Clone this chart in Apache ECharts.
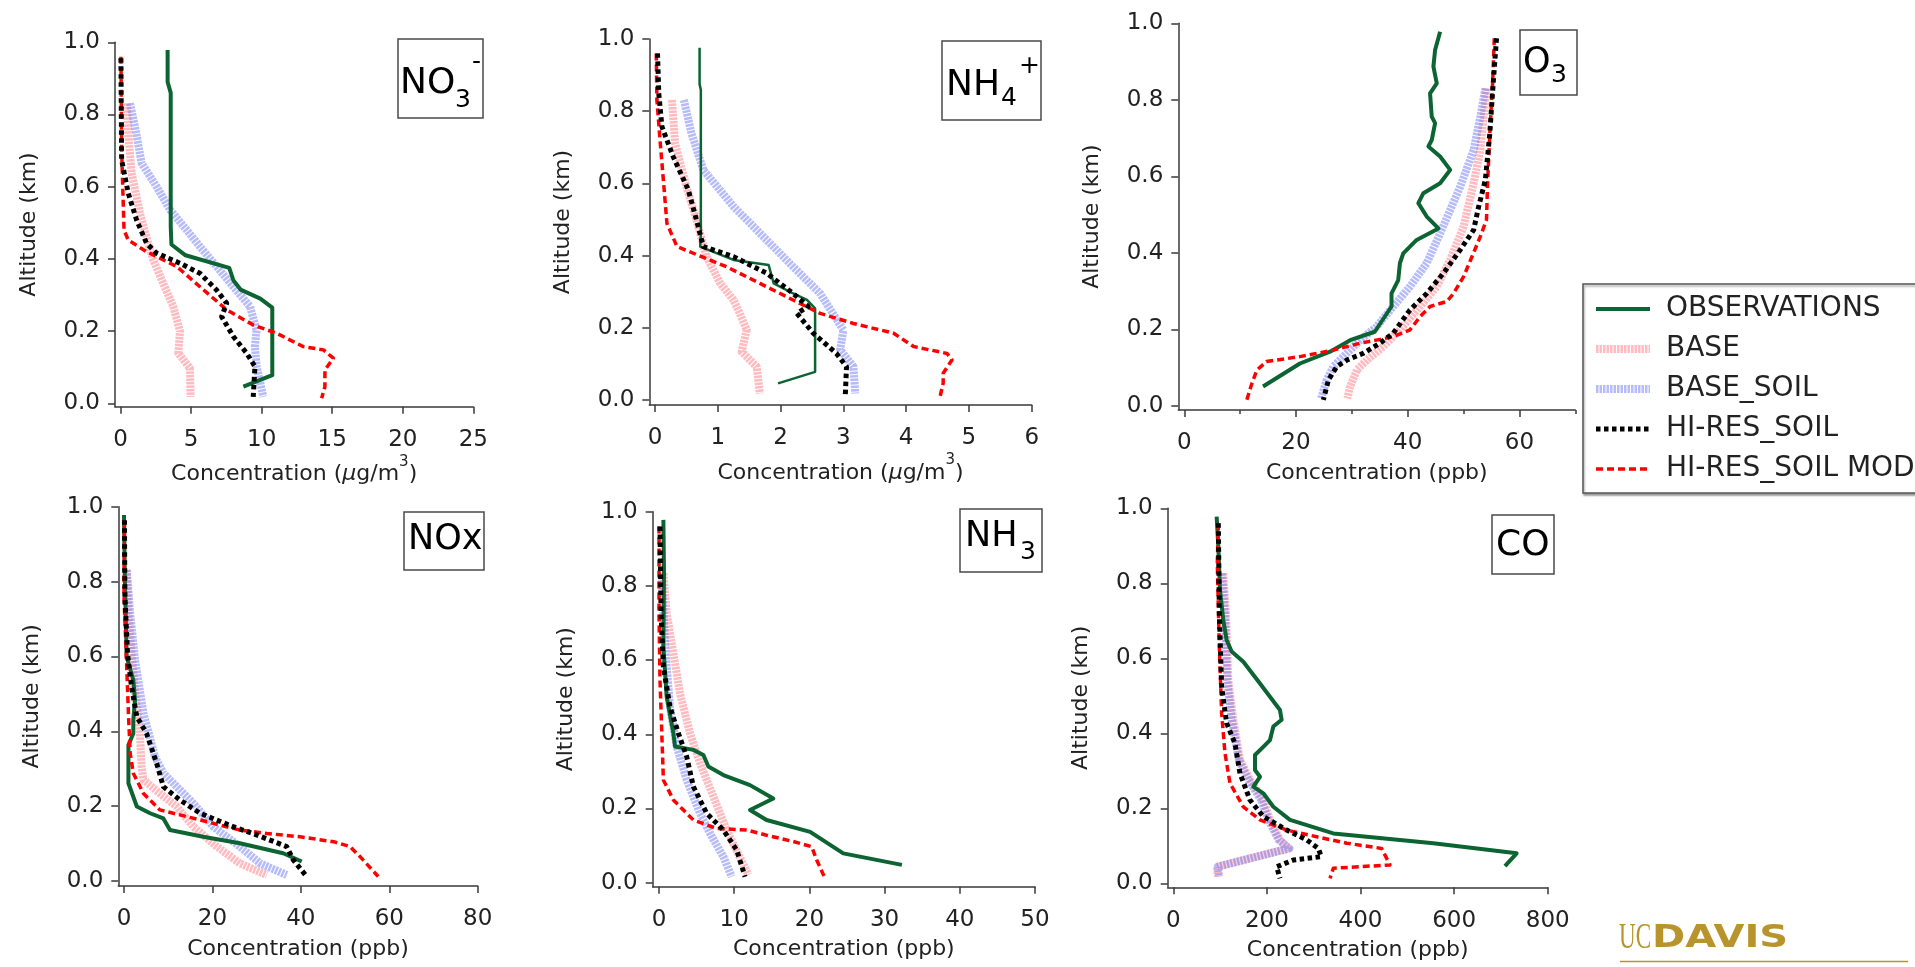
<!DOCTYPE html>
<html>
<head>
<meta charset="utf-8">
<title>Vertical profiles</title>
<script src="https://cdn.jsdelivr.net/npm/echarts@6/dist/echarts.min.js"></script>
<style>
  html, body { margin: 0; padding: 0; background: #ffffff; }
  #chart { width: 1915px; height: 967px; }
</style>
</head>
<body>
<div id="chart"></div>
<script>
// ---- Profiles: each point is [concentration, altitude (km)] ----

// NO3- (ug/m3)
const no3Obs = [[3.33,0.979],[3.33,0.89],[3.55,0.86],[3.55,0.49],[3.6,0.44],[4.6,0.41],[7.7,0.375],[8.0,0.34],[8.5,0.315],[9.9,0.29],[10.75,0.265],[10.75,0.078],[8.7,0.046]];
const no3Base = [[0.43,0.831],[0.54,0.748],[0.78,0.637],[1.37,0.526],[1.96,0.443],[2.32,0.397],[3.02,0.332],[3.73,0.268],[4.21,0.199],[4.09,0.139],[4.91,0.097],[4.96,0.018]];
const no3BaseSoil = [[0.66,0.831],[1.02,0.766],[1.49,0.665],[2.55,0.6],[3.5,0.536],[4.68,0.48],[5.62,0.434],[6.8,0.379],[7.99,0.323],[9.17,0.268],[9.64,0.203],[9.52,0.157],[9.64,0.102],[10.11,0.018]];
const no3HiRes = [[0.02,0.956],[0.07,0.674],[0.54,0.582],[1.13,0.508],[1.84,0.443],[2.55,0.416],[4.21,0.388],[5.62,0.36],[6.8,0.314],[7.52,0.277],[7.16,0.24],[7.99,0.185],[8.93,0.139],[9.52,0.102],[9.4,0.018]];
const no3HiResMod = [[0.02,0.96],[0.07,0.702],[0.24,0.48],[0.54,0.452],[1.84,0.42],[3.97,0.379],[5.62,0.323],[7.52,0.259],[9.4,0.217],[11.06,0.194],[12.95,0.157],[14.37,0.148],[15.08,0.125],[14.48,0.092],[14.48,0.046],[14.25,0.014]];

// NH4+ (ug/m3)
const nh4Obs = [[0.71,0.976],[0.71,0.875],[0.73,0.859],[0.73,0.462],[0.72,0.425],[1.25,0.388],[1.81,0.374],[1.89,0.323],[2.2,0.295],[2.42,0.277],[2.55,0.254],[2.55,0.078],[1.96,0.046]];
const nh4Base = [[0.27,0.831],[0.32,0.711],[0.5,0.591],[0.66,0.499],[0.82,0.397],[1.04,0.323],[1.25,0.277],[1.35,0.24],[1.46,0.194],[1.38,0.134],[1.62,0.092],[1.67,0.018]];
const nh4BaseSoil = [[0.46,0.831],[0.58,0.739],[0.77,0.637],[1.25,0.536],[1.78,0.443],[2.2,0.369],[2.63,0.295],[3.0,0.194],[2.95,0.139],[3.16,0.092],[3.19,0.018]];
const nh4HiRes = [[0.04,0.96],[0.06,0.849],[0.11,0.757],[0.29,0.674],[0.53,0.582],[0.66,0.499],[0.77,0.425],[1.25,0.397],[1.78,0.351],[2.2,0.295],[2.44,0.259],[2.26,0.24],[2.52,0.185],[2.89,0.129],[3.05,0.092],[3.03,0.009]];
const nh4HiResMod = [[0.02,0.96],[0.03,0.831],[0.08,0.72],[0.19,0.489],[0.35,0.425],[1.14,0.369],[1.67,0.323],[2.2,0.277],[2.63,0.24],[3.16,0.212],[3.8,0.185],[4.12,0.148],[4.65,0.129],[4.73,0.111],[4.59,0.074],[4.59,0.046],[4.54,0.009]];

// O3 (ppb)
const o3Obs = [[45.8,0.978],[44.9,0.93],[44.6,0.887],[45.2,0.843],[44.0,0.817],[44.3,0.756],[44.9,0.739],[44.3,0.695],[43.7,0.678],[45.8,0.652],[47.6,0.617],[45.8,0.582],[42.8,0.556],[41.9,0.53],[43.4,0.495],[45.5,0.464],[41.6,0.434],[39.2,0.399],[38.6,0.373],[38.3,0.329],[37.1,0.294],[37.1,0.26],[34.1,0.194],[29.7,0.172],[26.1,0.142],[20.7,0.111],[14.1,0.051]];
const o3Base = [[54.1,0.83],[53.6,0.756],[53.0,0.669],[51.8,0.582],[50.0,0.469],[47.6,0.382],[45.2,0.312],[42.2,0.26],[38.6,0.199],[35.6,0.155],[32.7,0.12],[30.9,0.094],[29.7,0.051],[29.2,0.02]];
const o3BaseSoil = [[53.9,0.83],[53.0,0.756],[51.8,0.669],[49.4,0.573],[47.6,0.512],[45.8,0.451],[43.4,0.373],[40.4,0.312],[37.4,0.26],[34.4,0.207],[31.5,0.172],[29.1,0.138],[26.7,0.103],[25.5,0.068],[24.5,0.02]];
const o3HiRes = [[55.9,0.961],[55.3,0.843],[54.7,0.713],[53.9,0.591],[52.7,0.521],[51.8,0.46],[49.4,0.408],[46.4,0.347],[43.4,0.294],[40.4,0.251],[37.4,0.19],[35.0,0.164],[32.1,0.138],[29.1,0.12],[27.3,0.103],[25.8,0.068],[24.9,0.016]];
const o3HiResMod = [[55.5,0.961],[55.2,0.843],[54.7,0.713],[54.3,0.582],[54.1,0.486],[53.0,0.443],[51.5,0.39],[50.0,0.338],[48.2,0.294],[47.0,0.273],[44.0,0.26],[42.2,0.233],[40.4,0.199],[37.4,0.181],[34.4,0.172],[31.5,0.164],[26.7,0.146],[20.7,0.129],[14.7,0.116],[13.0,0.094],[12.1,0.059],[11.2,0.016]];

// NOx (ppb)
const noxObs = [[0,0.978],[0.2,0.804],[0.6,0.599],[2.1,0.537],[2.5,0.484],[2.1,0.43],[2.1,0.394],[1.0,0.363],[1.0,0.261],[2.9,0.199],[5.9,0.181],[8.9,0.167],[10.4,0.136],[17.9,0.118],[26.2,0.101],[36.0,0.074],[40.2,0.052]];
const noxBase = [[0.6,0.831],[1.0,0.715],[1.7,0.608],[2.5,0.501],[3.6,0.394],[4.0,0.305],[4.4,0.27],[8.1,0.234],[11.9,0.199],[15.7,0.145],[21.0,0.092],[26.2,0.047],[32.3,0.016]];
const noxBaseSoil = [[0.6,0.831],[1.4,0.715],[2.5,0.59],[4.4,0.448],[7.0,0.332],[8.9,0.288],[15.7,0.207],[20.2,0.145],[26.2,0.092],[30.8,0.047],[36.8,0.016]];
const noxHiRes = [[0.1,0.964],[0.2,0.76],[0.8,0.608],[1.7,0.519],[2.9,0.439],[5.1,0.394],[7.4,0.314],[8.9,0.252],[12.7,0.216],[17.2,0.181],[24.7,0.145],[30.0,0.123],[36.8,0.092],[38.3,0.056],[41.3,0.012]];
const noxHiResMod = [[0.1,0.964],[0,0.76],[0.5,0.608],[1.0,0.448],[1.4,0.341],[2.1,0.288],[4.4,0.234],[8.1,0.19],[14.2,0.172],[20.2,0.154],[26.2,0.136],[32.3,0.127],[39.8,0.118],[47.4,0.105],[51.1,0.092],[53.4,0.065],[57.5,0.012]];

// NH3 (ppb)
const nh3Obs = [[0.58,0.978],[0.66,0.834],[0.58,0.636],[1.02,0.501],[1.91,0.403],[2.13,0.367],[4.57,0.358],[5.9,0.344],[6.56,0.313],[8.56,0.29],[12.1,0.263],[15.2,0.227],[12.1,0.196],[14.3,0.169],[20.1,0.137],[24.5,0.079],[32.3,0.048]];
const nh3Base = [[0.58,0.834],[1.02,0.726],[1.91,0.618],[2.79,0.51],[4.12,0.403],[5.45,0.322],[7.23,0.232],[9.0,0.142],[11.88,0.021]];
const nh3BaseSoil = [[0.35,0.834],[0.8,0.636],[1.46,0.474],[2.35,0.367],[3.68,0.277],[5.45,0.187],[6.78,0.133],[8.56,0.07],[9.66,0.016]];
const nh3HiRes = [[0.13,0.96],[0.27,0.726],[0.58,0.582],[1.46,0.474],[2.57,0.403],[3.68,0.34],[4.57,0.259],[6.34,0.187],[8.56,0.142],[10.33,0.088],[11.44,0.016]];
const nh3HiResMod = [[0,0.96],[0,0.726],[0.13,0.546],[0.58,0.277],[1.91,0.223],[4.57,0.169],[7.67,0.146],[11.66,0.142],[14.3,0.128],[17.86,0.111],[20.3,0.097],[20.97,0.061],[22.07,0.012]];

// CO (ppb)
const coObs = [[92.6,0.978],[96.2,0.898],[99.7,0.782],[106.8,0.702],[113.9,0.649],[124.6,0.618],[149.6,0.591],[185.2,0.533],[227.9,0.462],[231.5,0.436],[213.7,0.418],[206.6,0.382],[192.3,0.364],[174.5,0.342],[174.5,0.302],[185.2,0.284],[171.0,0.258],[192.3,0.24],[213.7,0.204],[249.3,0.169],[341.9,0.133],[555.6,0.107],[733.6,0.08],[708.7,0.046]];
const coBase = [[106.8,0.827],[112.5,0.72],[117.5,0.542],[128.2,0.436],[142.5,0.329],[163.8,0.276],[192.3,0.222],[206.6,0.169],[227.9,0.116],[245.7,0.093],[92.6,0.044],[96.2,0.018]];
const coBaseSoil = [[104,0.827],[110,0.72],[115,0.542],[125,0.436],[140,0.329],[160,0.276],[188,0.222],[203,0.169],[225,0.116],[248,0.093],[95,0.044],[98,0.018]];
const coHiRes = [[96.2,0.96],[98.3,0.72],[103.3,0.524],[113.9,0.427],[131.7,0.373],[142.5,0.293],[163.8,0.222],[192.3,0.178],[242.2,0.142],[284.9,0.116],[309.8,0.093],[316.2,0.071],[256.4,0.062],[220.8,0.044],[227.9,0.013]];
const coHiResMod = [[96.2,0.96],[94.0,0.853],[98.3,0.631],[103.3,0.453],[110.4,0.347],[121.0,0.267],[149.6,0.204],[185.2,0.169],[242.2,0.142],[306.3,0.124],[370.4,0.107],[445.2,0.093],[463.0,0.049],[341.9,0.04],[334.8,0.013]];

// ---- Tick values ----
const altTicks = [0, 0.2, 0.4, 0.6, 0.8, 1.0];
const no3Ticks = [0, 5, 10, 15, 20, 25];
const nh4Ticks = [0, 1, 2, 3, 4, 5, 6];
const o3Ticks = [0, 20, 40, 60];
const o3MinorTicks = [10, 30, 50, 70];
const noxTicks = [0, 20, 40, 60, 80];
const nh3Ticks = [0, 10, 20, 30, 40, 50];
const coTicks = [0, 200, 400, 600, 800];

const seriesNames = ['OBSERVATIONS', 'BASE', 'BASE_SOIL', 'HI-RES_SOIL', 'HI-RES_SOIL MOD'];

// ---- Styling ----
const FONT = 'DejaVu Sans';
const AXIS_COLOR = '#3a3a3a';
const TEXT_COLOR = '#222222';

const lineStyles = {
  'OBSERVATIONS':    { color: '#0b6431', width: 4,   type: 'solid',    z: 4 },
  'BASE':            { color: 'rgba(255,120,130,0.5)', width: 8, type: [2.5, 1], z: 2 },
  'BASE_SOIL':       { color: 'rgba(110,120,245,0.5)', width: 8, type: [2.5, 1], z: 3 },
  'HI-RES_SOIL':     { color: '#000000', width: 5,   type: [4.5, 3.5], z: 6 },
  'HI-RES_SOIL MOD': { color: '#ff0000', width: 3.5, type: [7, 4],     z: 5 }
};

const UG = '{t|Concentration (}{mu|\u03bc}{t|g/m}{sup|3}{t|)}';
const PPB = 'Concentration (ppb)';

// Panel layout: grid box in pixels and axis extents
const panels = [
  { grid: { left: 115,    top: 42.3,  width: 358.3, height: 364.4 }, xMin: -0.4,  xMax: 25, yMin: -0.0094, ticks: no3Ticks, unit: UG,
    profiles: [no3Obs, no3Base, no3BaseSoil, no3HiRes, no3HiResMod] },
  { grid: { left: 649.3,  top: 39,    width: 382.4, height: 366 },   xMin: -0.091, xMax: 6, yMin: -0.0139, ticks: nh4Ticks, unit: UG, obsWidth: 2.5,
    profiles: [nh4Obs, nh4Base, nh4BaseSoil, nh4HiRes, nh4HiResMod] },
  { grid: { left: 1178.3, top: 23.3,  width: 397,   height: 386.7 }, xMin: -1.07, xMax: 70, yMin: -0.0105, ticks: o3Ticks, minor: o3MinorTicks, unit: PPB,
    profiles: [o3Obs, o3Base, o3BaseSoil, o3HiRes, o3HiResMod] },
  { grid: { left: 118.3,  top: 506.7, width: 359.4, height: 379.3 }, xMin: -1.29, xMax: 80, yMin: -0.0134, ticks: noxTicks, unit: PPB,
    profiles: [noxObs, noxBase, noxBaseSoil, noxHiRes, noxHiResMod] },
  { grid: { left: 652.7,  top: 511.7, width: 382.3, height: 375 },   xMin: -0.84, xMax: 50, yMin: -0.0108, ticks: nh3Ticks, unit: PPB,
    profiles: [nh3Obs, nh3Base, nh3BaseSoil, nh3HiRes, nh3HiResMod] },
  { grid: { left: 1167.7, top: 508.3, width: 380,   height: 379 },   xMin: -12,   xMax: 800, yMin: -0.0107, ticks: coTicks, unit: PPB,
    profiles: [coObs, coBase, coBaseSoil, coHiRes, coHiResMod] }
];

const axisLineStyle = { color: AXIS_COLOR, width: 1.5 };

const grids = [], xAxes = [], yAxes = [], series = [];

panels.forEach((p, gi) => {
  grids.push(Object.assign({}, p.grid));
  const isUg = p.unit === UG;
  xAxes.push({
    type: 'value', gridIndex: gi, position: 'bottom', min: p.xMin, max: p.xMax,
    splitLine: { show: false },
    axisLine: { show: true, onZero: false, lineStyle: axisLineStyle },
    axisTick: { show: true, customValues: p.ticks, length: 7, lineStyle: axisLineStyle },
    axisLabel: { customValues: p.ticks, margin: 22, color: TEXT_COLOR, fontFamily: FONT, fontSize: 23 },
    name: p.unit, nameLocation: 'middle', nameGap: isUg ? 48 : 52,
    nameTextStyle: {
      color: TEXT_COLOR, fontFamily: FONT, fontSize: 22,
      rich: {
        t:   { color: TEXT_COLOR, fontFamily: FONT, fontSize: 22, lineHeight: 40 },
        mu:  { color: TEXT_COLOR, fontFamily: FONT, fontSize: 22, lineHeight: 40, fontStyle: 'italic' },
        sup: { color: TEXT_COLOR, fontFamily: FONT, fontSize: 15, lineHeight: 15, verticalAlign: 'top' }
      }
    }
  });
  yAxes.push({
    type: 'value', gridIndex: gi, min: p.yMin, max: 1.0,
    splitLine: { show: false },
    axisLine: { show: true, onZero: false, lineStyle: axisLineStyle },
    axisTick: { show: true, customValues: altTicks, length: 7, lineStyle: axisLineStyle },
    axisLabel: { customValues: altTicks, margin: 15, color: TEXT_COLOR, fontFamily: FONT, fontSize: 23,
                 formatter: v => v.toFixed(1) },
    name: 'Altitude (km)', nameLocation: 'middle', nameGap: 75,
    nameTextStyle: { color: TEXT_COLOR, fontFamily: FONT, fontSize: 22 }
  });
  const xIndex = xAxes.length - 1;
  const yIndex = yAxes.length - 1;
  // draw order: BASE, BASE_SOIL, OBSERVATIONS, HI-RES_SOIL MOD, HI-RES_SOIL
  [1, 2, 0, 4, 3].forEach(k => {
    const name = seriesNames[k];
    const st = lineStyles[name];
    const width = (k === 0 && p.obsWidth) ? p.obsWidth : st.width;
    series.push({
      type: 'line', name: name, xAxisIndex: xIndex, yAxisIndex: yIndex,
      data: p.profiles[k], showSymbol: false, symbol: 'none', smooth: false,
      color: st.color, z: st.z, silent: true,
      lineStyle: { color: st.color, width: width, type: st.type, cap: 'butt', join: 'round' }
    });
  });
  if (p.minor) {
    xAxes.push({
      type: 'value', gridIndex: gi, position: 'bottom', min: p.xMin, max: p.xMax,
      splitLine: { show: false },
      axisLine: { show: false, onZero: false },
      axisTick: { show: true, customValues: p.minor, length: 4, lineStyle: axisLineStyle },
      axisLabel: { show: false }
    });
  }
});

// Species label boxes
const speciesLabels = [
  { box: [398, 39, 85, 79],  parts: [['NO', 400, 84, 36], ['3', 455, 100, 25], ['-', 472, 62, 25]] },
  { box: [942, 41, 99, 79],  parts: [['NH', 946, 86, 36], ['4', 1001, 98, 25], ['+', 1019, 66, 25]] },
  { box: [1520, 30, 57, 65], parts: [['O', 1523, 62.5, 35], ['3', 1551, 75, 25]] },
  { box: [404, 512, 80, 58], parts: [['NOx', 408, 540, 35]] },
  { box: [960, 509, 82, 63], parts: [['NH', 965, 537, 35], ['3', 1020, 552, 25]] },
  { box: [1492, 515, 62, 59], parts: [['CO', 1496, 545.5, 36]] }
];

const graphics = [];
speciesLabels.forEach(l => {
  graphics.push({
    type: 'rect', shape: { x: l.box[0], y: l.box[1], width: l.box[2], height: l.box[3] },
    style: { fill: '#ffffff', stroke: '#4a4a4a', lineWidth: 1.5 }, z: 10
  });
  l.parts.forEach(pt => {
    graphics.push({
      type: 'text', x: pt[1], y: pt[2], z: 11,
      style: { text: pt[0], fill: '#000000', font: pt[3] + 'px "' + FONT + '"',
               textAlign: 'left', verticalAlign: 'middle' }
    });
  });
});

// UC Davis wordmark
const GOLD = '#b8952c';
graphics.push({
  type: 'text', x: 1619, y: 939, scaleX: 0.66, z: 10,
  style: { text: 'UC', fill: GOLD, font: '35px "Liberation Serif"', textAlign: 'left', verticalAlign: 'middle' }
});
graphics.push({
  type: 'text', x: 1652, y: 939, scaleX: 1.25, z: 10,
  style: { text: 'DAVIS', fill: GOLD, font: 'bold 32px "DejaVu Sans"', textAlign: 'left', verticalAlign: 'middle' }
});
graphics.push({
  type: 'line', shape: { x1: 1620, y1: 961.5, x2: 1908, y2: 961.5 },
  style: { stroke: GOLD, lineWidth: 1.5 }, z: 10
});

const chart = echarts.init(document.getElementById('chart'), null, { renderer: 'canvas' });
chart.setOption({
  backgroundColor: '#ffffff',
  animation: false,
  grid: grids,
  xAxis: xAxes,
  yAxis: yAxes,
  series: series,
  legend: {
    orient: 'vertical', left: 1583, top: 284,
    data: seriesNames, selectedMode: false,
    itemWidth: 54, itemHeight: 10, itemGap: 12,
    padding: [11, 8, 10, 9],
    backgroundColor: '#ffffff', borderColor: '#555555', borderWidth: 1.5,
    shadowColor: 'rgba(0,0,0,0.35)', shadowBlur: 2, shadowOffsetX: 1, shadowOffsetY: 2,
    lineStyle: { width: 'inherit' },
    // line-only keys: the marker symbol is made fully transparent
    itemStyle: { opacity: 0, borderWidth: 0 },
    textStyle: { fontFamily: FONT, fontSize: 28, color: TEXT_COLOR, padding: [0, 0, 0, 11] }
  },
  graphic: graphics
});
</script>
</body>
</html>
